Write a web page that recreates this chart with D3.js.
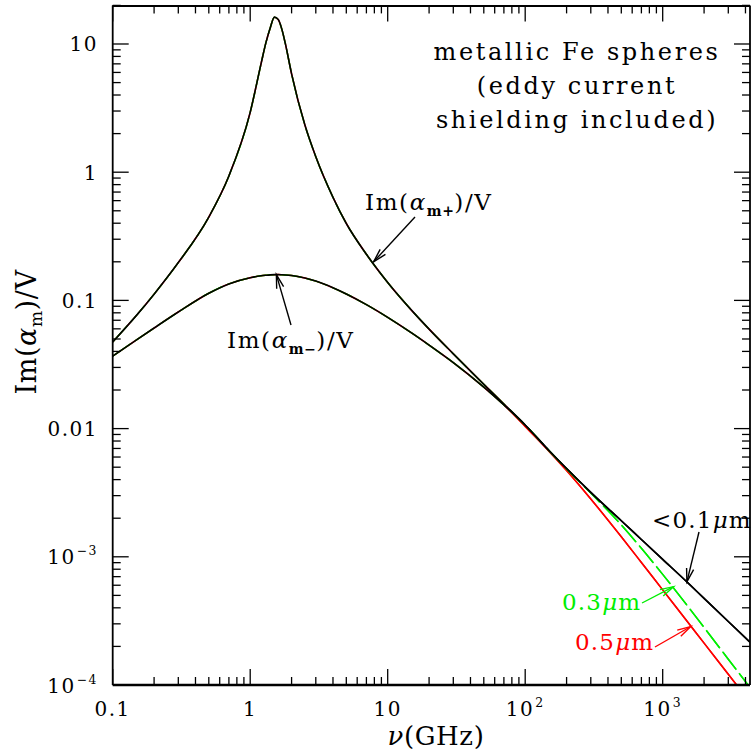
<!DOCTYPE html>
<html>
<head>
<meta charset="utf-8">
<script src="https://cdn.jsdelivr.net/npm/d3@7/dist/d3.min.js"></script>
<style>
  html, body { margin: 0; padding: 0; background: #fff; }
  svg { display: block; }
  text { font-family: "DejaVu Serif", "Liberation Serif", serif; fill: #000; }
</style>
</head>
<body>
<svg id="chart" width="751" height="752"></svg>
<script>
// Frequencies (GHz) below 100 GHz, where all grain sizes coincide
const lowNu    = [0.1, 0.15, 0.2, 0.3, 0.5, 0.7, 1.0, 1.2, 1.3, 1.4, 1.5, 1.6, 1.7, 1.8, 2, 2.5, 3, 4, 5, 7, 10, 15, 20, 30, 50, 70];
// Im(alpha_m+)/V and Im(alpha_m-)/V over lowNu
const plusLow  = [0.0474, 0.0771, 0.1119, 0.1972, 0.447, 0.935, 2.93, 7.03, 10.2, 13.4, 16.2, 15.5, 13.0, 10.1, 5.85, 2.33, 1.32, 0.637, 0.398, 0.229, 0.138, 0.0832, 0.0597, 0.0383, 0.02215, 0.01556];
const minusLow = [0.0368, 0.0495, 0.0609, 0.0812, 0.1137, 0.1345, 0.1503, 0.1555, 0.1570, 0.1582, 0.1588, 0.1589, 0.1585, 0.1579, 0.1563, 0.1494, 0.1414, 0.1253, 0.1121, 0.0926, 0.0737, 0.0555, 0.0448, 0.0327, 0.02106, 0.01530];

// High-frequency tails, one per grain radius (+ and - branches merge here)
const tailNu    = [100, 150, 200, 300, 500, 700, 1000, 1500, 2000, 3000, 4315];
const tailBlack = [0.01067, 0.00669, 0.00488, 0.00318, 0.00191, 0.001364, 0.000955, 0.000637, 0.000474, 0.000313, 0.000216];
const tailGreen = [0.01067, 0.00669, 0.00485, 0.00314, 0.001772, 0.001164, 0.000729, 0.000420, 0.000281, 0.000159, 0.0000957];
const tailRed   = [0.0104, 0.00661, 0.00471, 0.002825, 0.001432, 0.000903, 0.000552, 0.000316, 0.000212, 0.0001213, 0.0000734];

const sizeLabels = ["<0.1", "0.3", "0.5"];
const sizeColors = ["#000000", "#00ee00", "#ff0000"];

// Axis ticks
const xMajorTicks = [0.1, 1, 10, 100, 1000];
const xTickLabels = [["0.1"], ["1"], ["10"], ["10", "2"], ["10", "3"]];
const yMajorTicks = [1e-4, 1e-3, 0.01, 0.1, 1, 10];
const yTickLabels = [["10", "\u22124"], ["10", "\u22123"], ["0.01"], ["0.1"], ["1"], ["10"]];

const titleLines = ["metallic Fe spheres", "(eddy current", "shielding included)"];

const svg = d3.select("#chart");
const L = 112.7, R = 750, T = 5.4, B = 685;

const x = d3.scaleLog().domain([0.1, 4315]).range([L, R]);
const y = d3.scaleLog().domain([1e-4, 20]).range([B, T]);

svg.append("defs").append("clipPath").attr("id", "plotclip")
  .append("rect").attr("x", L).attr("y", T).attr("width", R - L).attr("height", B - T);

// ---- curves ----
const line = d3.line()
  .x(d => x(d[0])).y(d => y(d[1]))
  .curve(d3.curveMonotoneX);

function series(low, tail) {
  return lowNu.map((n, i) => [n, low[i]]).concat(tailNu.map((n, i) => [n, tail[i]]));
}
const tails = [tailBlack, tailGreen, tailRed];
const curveG = svg.append("g").attr("clip-path", "url(#plotclip)");
// red first, then green, black on top
[2, 1, 0].forEach(k => {
  [plusLow, minusLow].forEach(low => {
    curveG.append("path")
      .attr("d", line(series(low, tails[k])))
      .attr("fill", "none")
      .attr("stroke", sizeColors[k])
      .attr("stroke-width", k === 0 ? 1.6 : 1.5)
      .attr("stroke-dasharray", k === 1 ? "22,5" : null);
  });
});

// ---- frame and ticks ----
const frame = svg.append("g").attr("stroke", "#000").attr("fill", "none");
frame.append("line").attr("x1", L).attr("x2", R).attr("y1", B).attr("y2", B).attr("stroke-width", 2.4);
frame.append("line").attr("x1", L).attr("x2", R).attr("y1", T + 0.6).attr("y2", T + 0.6).attr("stroke-width", 1.8);
frame.append("line").attr("x1", L).attr("x2", L).attr("y1", T).attr("y2", B).attr("stroke-width", 1.8);
frame.append("line").attr("x1", R).attr("x2", R).attr("y1", T).attr("y2", B).attr("stroke-width", 1.8);

function logTicks(scale) {
  const [a, b] = scale.domain();
  const out = [];
  for (let e = Math.floor(Math.log10(a)); e <= Math.ceil(Math.log10(b)); e++) {
    for (let m = 1; m <= 9; m++) {
      const v = m * Math.pow(10, e);
      if (v >= a * 0.9999 && v <= b * 1.0001) out.push({ v, major: m === 1 });
    }
  }
  return out;
}
const MAJ = 16, MIN = 8;
logTicks(x).forEach(t => {
  const px = x(t.v), len = t.major ? MAJ : MIN;
  frame.append("line").attr("x1", px).attr("x2", px).attr("y1", B).attr("y2", B - len).attr("stroke-width", 1.3);
  frame.append("line").attr("x1", px).attr("x2", px).attr("y1", T).attr("y2", T + len).attr("stroke-width", 1.3);
});
logTicks(y).forEach(t => {
  const py = y(t.v), len = t.major ? MAJ : MIN;
  frame.append("line").attr("x1", L).attr("x2", L + len).attr("y1", py).attr("y2", py).attr("stroke-width", 1.3);
  frame.append("line").attr("x1", R).attr("x2", R - len).attr("y1", py).attr("y2", py).attr("stroke-width", 1.3);
});

// ---- tick labels ----
const tickFont = 20;
function labelWithSup(g, parts) {
  const t = g.append("text").attr("font-size", tickFont).attr("letter-spacing", 1.5);
  t.append("tspan").text(parts[0]);
  if (parts.length > 1) {
    t.append("tspan").attr("font-size", tickFont * 0.62).attr("dy", -9).attr("dx", 1).text(parts[1]);
  }
  return t;
}
xMajorTicks.forEach((v, i) => {
  labelWithSup(svg, xTickLabels[i])
    .attr("x", x(v)).attr("y", 716).attr("text-anchor", "middle");
});
yMajorTicks.forEach((v, i) => {
  labelWithSup(svg, yTickLabels[i])
    .attr("x", 98).attr("y", y(v) + 7.5).attr("text-anchor", "end");
});

// ---- axis titles ----
const xt = svg.append("text").attr("x", 436).attr("y", 745).attr("text-anchor", "middle")
  .attr("font-size", 26).attr("letter-spacing", 0.6);
xt.append("tspan").attr("font-style", "italic").text("\u03bd");
xt.append("tspan").text("(GHz)");

const yt = svg.append("text").attr("transform", "translate(36,332) rotate(-90)")
  .attr("text-anchor", "middle").attr("font-size", 27).attr("letter-spacing", 0.6);
yt.append("tspan").text("Im(");
yt.append("tspan").attr("font-style", "italic").text("\u03b1");
yt.append("tspan").attr("font-size", 17).attr("dy", 6).text("m");
yt.append("tspan").attr("dy", -6).text(")/V");

// ---- title block ----
titleLines.forEach((s, i) => {
  svg.append("text").attr("x", 577).attr("y", 60 + i * 34)
    .attr("text-anchor", "middle").attr("font-size", 24).attr("letter-spacing", 2.6).text(s);
});

// ---- annotations ----
function arrow(x1, y1, x2, y2, color) {
  const g = svg.append("g").attr("stroke", color).attr("fill", "none").attr("stroke-width", 1.4);
  g.append("line").attr("x1", x1).attr("y1", y1).attr("x2", x2).attr("y2", y2);
  const ang = Math.atan2(y2 - y1, x2 - x1), hl = 14, ha = 0.26;
  g.append("path").attr("d",
    `M${x2 - hl * Math.cos(ang - ha)},${y2 - hl * Math.sin(ang - ha)} L${x2},${y2} L${x2 - hl * Math.cos(ang + ha)},${y2 - hl * Math.sin(ang + ha)}`);
}

function alphaLabel(px, py, sub) {
  const t = svg.append("text").attr("x", px).attr("y", py).attr("font-size", 23).attr("letter-spacing", 1.6);
  t.append("tspan").text("Im(");
  t.append("tspan").attr("font-style", "italic").text("\u03b1");
  t.append("tspan").attr("font-size", 14).attr("font-weight", "bold").attr("letter-spacing", 0.5).attr("dy", 6).text(sub);
  t.append("tspan").attr("dy", -6).text(")/V");
}
alphaLabel(365, 210, "m+");
arrow(415, 217, x(7.9), y(0.2), "#000");
alphaLabel(227, 348, "m\u2212");
arrow(291, 325, x(1.55), y(0.1588), "#000");

function sizeLabel(px, py, txt, color) {
  const t = svg.append("text").attr("x", px).attr("y", py).attr("font-size", 23)
    .attr("letter-spacing", 1.2).style("fill", color);
  t.append("tspan").text(txt);
  t.append("tspan").attr("font-style", "italic").text("\u03bc");
  t.append("tspan").text("m");
}
sizeLabel(652, 528, sizeLabels[0], sizeColors[0]);
arrow(699, 532, x(1500), y(0.000637), sizeColors[0]);
sizeLabel(562, 610, sizeLabels[1], sizeColors[1]);
arrow(642, 603, x(1200), y(0.000585), sizeColors[1]);
sizeLabel(575, 650, sizeLabels[2], sizeColors[2]);
arrow(655, 647, x(1600), y(0.000286), sizeColors[2]);
</script>
</body>
</html>
